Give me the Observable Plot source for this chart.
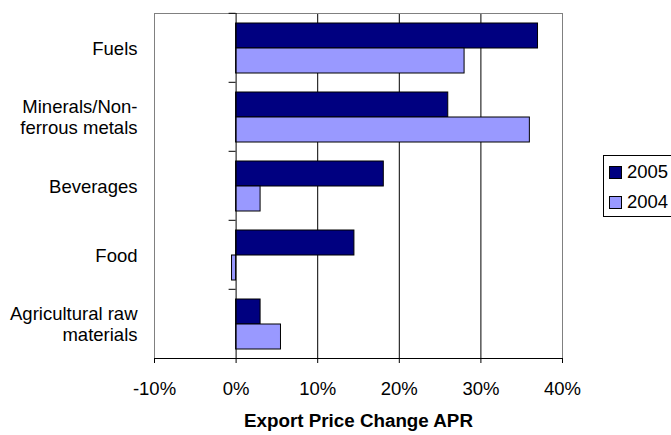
<!DOCTYPE html>
<html>
<head>
<meta charset="utf-8">
<script src="https://cdn.jsdelivr.net/npm/d3@7"></script>
<script src="https://cdn.jsdelivr.net/npm/@observablehq/plot@0.6"></script>
<style>
  html, body { margin: 0; padding: 0; background: #fff; overflow: hidden; }
  #wrap { position: relative; width: 671px; height: 435px; overflow: hidden; font-family: "Liberation Sans", Arial, sans-serif; }
  #legend { position: absolute; left: 603px; top: 155px; width: 80px; height: 59px; border: 1px solid #000; background: #fff; padding-top: 1px; box-sizing: content-box; }
  #legend .row { display: flex; align-items: center; height: 30px; font-size: 18.5px; color: #000; }
  #legend .sw { width: 11px; height: 11px; border: 1px solid #000; margin-left: 5px; margin-right: 5px; }
</style>
</head>
<body>
<div id="wrap"></div>
<script>
// ---- data ----
const categories = ["Fuels", "Minerals/Non-ferrous metals", "Beverages", "Food", "Agricultural raw materials"];
const categoryLabels = ["Fuels", "Minerals/Non-\nferrous metals", "Beverages", "Food", "Agricultural raw\nmaterials"];
const years = ["2005", "2004"];
const values2005 = [37, 26, 18.1, 14.5, 3];
const values2004 = [28, 36, 3, -0.5, 5.5];
const colors = ["#000080", "#9999FF"];
const xTicks = [-10, 0, 10, 20, 30, 40];
const xTitle = "Export Price Change APR";

// ---- layout ----
const W = 671, H = 435;
const mTop = 12, mRight = 109, mBottom = 76, mLeft = 154;
const xMin = xTicks[0], xMax = xTicks[xTicks.length - 1];
const plotW = W - mLeft - mRight;
const facetH = (H - mTop - mBottom) / categories.length;
const zeroOffset = plotW * (0 - xMin) / (xMax - xMin);

const data = categories.flatMap((c, i) => [
  {category: c, year: years[0], value: values2005[i]},
  {category: c, year: years[1], value: values2004[i]}
]);
const labelOf = Object.fromEntries(categories.map((c, i) => [c, categoryLabels[i]]));

const font = "'Liberation Sans', Arial, sans-serif";

const chart = Plot.plot({
  width: W,
  height: H,
  marginTop: mTop,
  marginRight: mRight,
  marginBottom: mBottom,
  marginLeft: mLeft,
  style: {fontFamily: font, fontSize: "18.5px", color: "#000", background: "#fff", overflow: "visible"},
  x: {domain: [xMin, xMax]},
  y: {domain: years, paddingInner: 0, paddingOuter: 0.34, axis: null},
  fy: {domain: categories, padding: 0, label: null},
  color: {domain: years, range: colors},
  marks: [
    Plot.ruleX(xTicks.filter(t => t > xMin && t < xMax && t !== 0), {stroke: "#000", strokeWidth: 1}),
    Plot.frame({anchor: "left", stroke: "#808080"}),
    Plot.frame({anchor: "right", stroke: "#808080"}),
    Plot.frame({anchor: "top", stroke: "#808080", facetAnchor: "top"}),
    Plot.barX(data, {fy: "category", y: "year", x: "value", fill: "year", stroke: "#000", strokeWidth: 1}),
    Plot.ruleX([0], {stroke: "#000"}),
    Plot.frame({anchor: "bottom", stroke: "#000", facetAnchor: "bottom"}),
    Plot.axisX({anchor: "bottom", ticks: xTicks, tickSize: 5, tickPadding: 18, tickFormat: d => d + "%", label: null, stroke: "#000"}),
    Plot.axisFy({anchor: "left", tickSize: 0, tickPadding: 17, tickFormat: d => labelOf[d], label: null, lineHeight: 1.15}),
    Plot.axisFy({anchor: "left", tickSize: 7, dx: zeroOffset, dy: -facetH / 2, tickFormat: () => "", label: null, stroke: "#000"}),
    Plot.text([xTitle], {text: d => d, frameAnchor: "bottom", dy: 68, fontWeight: "bold", fontSize: 18.8, facetAnchor: "bottom"})
  ]
});

const wrap = document.getElementById("wrap");
wrap.appendChild(chart);

const legend = document.createElement("div");
legend.id = "legend";
years.forEach((y, i) => {
  const row = document.createElement("div");
  row.className = "row";
  const sw = document.createElement("div");
  sw.className = "sw";
  sw.style.background = colors[i];
  const t = document.createElement("span");
  t.textContent = y;
  row.appendChild(sw);
  row.appendChild(t);
  legend.appendChild(row);
});
wrap.appendChild(legend);
</script>
</body>
</html>
